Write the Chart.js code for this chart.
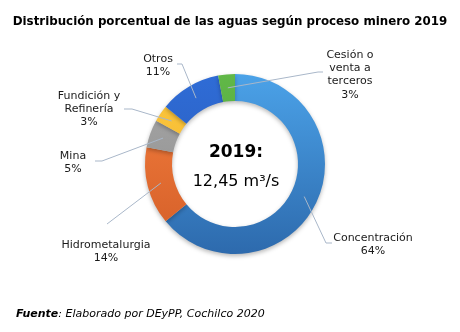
<!DOCTYPE html>
<html>
<head>
<meta charset="utf-8">
<title>Distribución porcentual de las aguas</title>
<script src="https://cdn.jsdelivr.net/npm/chart.js"></script>
<style>
	body { margin: 0; background: #fff; }
	#wrap { width: 460px; height: 332px; position: relative; }
</style>
</head>
<body>
<div id="wrap"><canvas id="canvas"></canvas></div>
<script>
	// Datos
	const titulo = 'Distribución porcentual de las aguas según proceso minero 2019'
	const categorias = ['Concentración', 'Hidrometalurgia', 'Mina', 'Fundición y Refinería', 'Otros', 'Cesión o venta a terceros']
	const porcentajes = [64, 14, 5, 3, 11, 3]
	const etiquetas = [['Concentración'], ['Hidrometalurgia'], ['Mina'], ['Fundición y', 'Refinería'], ['Otros'], ['Cesión o', 'venta a', 'terceros']]
	const anio = '2019:'
	const caudal = '12,45 m³/s'
	const fuenteTit = 'Fuente'
	const fuenteTxt = ': Elaborado por DEyPP, Cochilco 2020'

	// colores (arriba -> abajo)
	const colores = [
		['#4ba2e8', '#2d6aad'],
		['#f5803f', '#d35d27'],
		['#a8a8a8', '#8a8a8a'],
		['#fdc83e', '#eeb02a'],
		['#2f6cd6', '#2858b5'],
		['#61b848', '#4a9a34']
	]

	// posición de cada etiqueta respecto al centro: texto (centro 1a fila), codo y fin de la línea
	const layoutEtq = [
		{ tx: 138, ty: 74, codo: [91, 79], fin: [97, 79] },
		{ tx: -129, ty: 81, codo: null, fin: [-128, 60] },
		{ tx: -162, ty: -8, codo: [-133, -3], fin: [-140, -3] },
		{ tx: -146, ty: -68, codo: [-103, -55], fin: [-111, -55] },
		{ tx: -77, ty: -105, codo: [-53, -100], fin: [-58, -100] },
		{ tx: 115, ty: -109, codo: [83, -92], fin: [88, -92] }
	]

	const fam = '"DejaVu Sans", Verdana, sans-serif'

	const textos = {
		id: 'textos',
		beforeDatasetsDraw(chart) {
			const c = chart.ctx
			c.save()
			c.shadowColor = 'rgba(0,0,0,0.28)'
			c.shadowBlur = 4
			c.shadowOffsetY = 2
		},
		afterDatasetsDraw(chart) {
			const c = chart.ctx
			c.restore()
			const meta = chart.getDatasetMeta(0)
			const arc0 = meta.data[0]
			const cx = arc0.x, cy = arc0.y

			c.save()
			// lineas guía
			c.strokeStyle = '#a9b7c9'
			c.lineWidth = 1
			meta.data.forEach((arc, i) => {
				const p = arc.getProps(['startAngle', 'endAngle', 'innerRadius', 'outerRadius'], true)
				const m = (p.startAngle + p.endAngle) / 2
				const r = (p.innerRadius + p.outerRadius) / 2
				const L = layoutEtq[i]
				c.beginPath()
				c.moveTo(cx + Math.cos(m) * r, cy + Math.sin(m) * r)
				if (L.codo) c.lineTo(cx + L.codo[0], cy + L.codo[1])
				c.lineTo(cx + L.fin[0], cy + L.fin[1])
				c.stroke()
			})

			// etiquetas
			c.fillStyle = '#1a1a1a'
			c.font = '11px ' + fam
			c.textAlign = 'center'
			c.textBaseline = 'middle'
			etiquetas.forEach((lin, i) => {
				const L = layoutEtq[i]
				const filas = lin.concat([porcentajes[i] + '%'])
				filas.forEach((t, k) => c.fillText(t, cx + L.tx, cy + L.ty + k * 13.3))
			})

			// centro
			c.fillStyle = '#000'
			c.font = 'bold 17px ' + fam
			c.fillText(anio, cx + 1, cy - 11)
			c.font = '16px ' + fam
			c.fillText(caudal, cx + 1, cy + 18)

			// título: ajustado al ancho del original
			c.font = 'bold 13px ' + fam
			const tam = 13 * 435 / c.measureText(titulo).width
			c.font = 'bold ' + tam.toFixed(2) + 'px ' + fam
			c.fillText(titulo, 230, 22)

			// fuente
			c.textAlign = 'left'
			c.font = 'italic bold 11px ' + fam
			c.fillText(fuenteTit, 16, 314)
			const w = c.measureText(fuenteTit).width
			c.font = 'italic 11px ' + fam
			c.fillText(fuenteTxt, 16 + w, 314)
			c.restore()
		}
	}

	function degradado(ctx) {
		const chart = ctx.chart
		const a = chart.chartArea
		if (!a) return colores[ctx.dataIndex][0]
		const g = chart.ctx.createLinearGradient(0, a.top, 0, a.bottom)
		g.addColorStop(0, colores[ctx.dataIndex][0])
		g.addColorStop(1, colores[ctx.dataIndex][1])
		return g
	}

	const canvas = document.querySelector('#canvas')
	const chart = new Chart(canvas.getContext('2d'), {
		type: 'doughnut',
		data: {
			labels: categorias,
			datasets: [{
				data: porcentajes,
				backgroundColor: degradado,
				borderWidth: 0
			}]
		},
		options: {
			responsive: true,
			maintainAspectRatio: false,
			animation: false,
			cutout: '70%',
			layout: { padding: { left: 145, right: 135, top: 74, bottom: 78 } },
			plugins: {
				legend: { display: false },
				tooltip: { enabled: false }
			}
		},
		plugins: [textos]
	})
</script>
</body>
</html>
